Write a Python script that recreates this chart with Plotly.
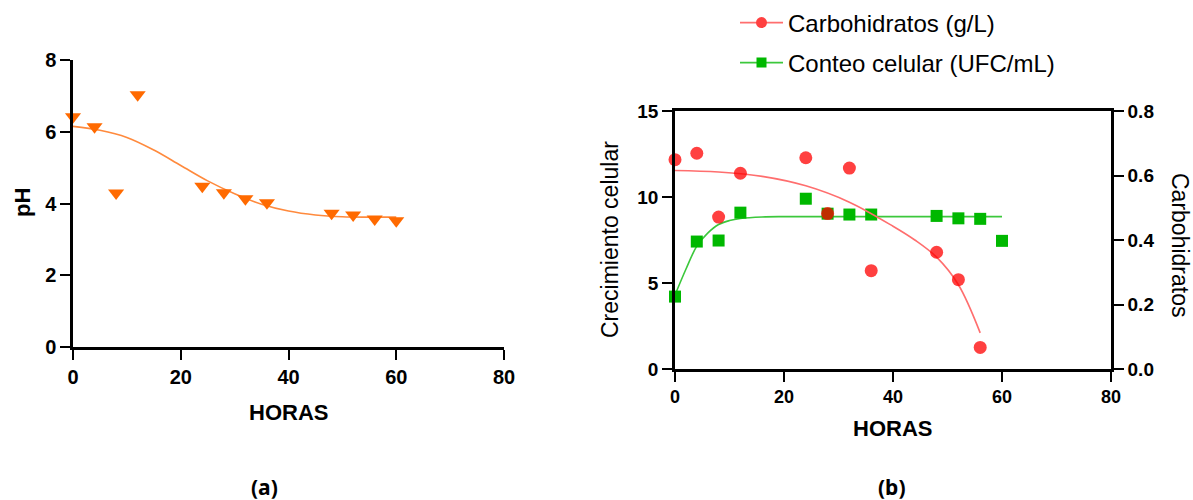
import plotly.graph_objects as go

W, H = 1193, 500

# ---- Data: panel (a) pH ----
hours_ph = [0, 4, 8, 12, 24, 28, 32, 36, 48, 52, 56, 60]
ph_vals = [6.42, 6.14, 4.29, 7.03, 4.48, 4.30, 4.13, 4.02, 3.73, 3.68, 3.57, 3.52]
ph_fit_x = [0, 5, 10, 15, 20, 25, 30, 35, 40, 45, 50, 55, 60]
ph_fit_y = [6.15, 6.04, 5.84, 5.49, 5.06, 4.63, 4.27, 3.98, 3.79, 3.68, 3.63, 3.62, 3.62]

# ---- Data: panel (b) ----
hours_b = [0, 4, 8, 12, 24, 28, 32, 36, 48, 52, 56, 60]
conteo_vals = [4.21, 7.41, 7.47, 9.09, 9.90, 9.03, 8.98, 8.98, 8.90, 8.76, 8.73, 7.45]
conteo_fit_x = [0, 2, 4, 6, 8, 10, 12, 16, 20, 30, 40, 50, 60]
conteo_fit_y = [4.3, 5.8, 7.14, 7.9, 8.4, 8.63, 8.75, 8.84, 8.86, 8.86, 8.86, 8.86, 8.86]

hours_carb = [0, 4, 8, 12, 24, 28, 32, 36, 48, 52, 56]
carb_vals = [0.649, 0.669, 0.471, 0.607, 0.655, 0.482, 0.623, 0.305, 0.362, 0.277, 0.067]
carb_fit_x = [0, 8, 16, 24, 32, 40, 44, 48, 52, 56]
carb_fit_y = [0.6155, 0.6107, 0.5973, 0.568, 0.5173, 0.4427, 0.400, 0.3467, 0.2613, 0.112]

x_ticks = [0, 20, 40, 60, 80]
ph_ticks = [0, 2, 4, 6, 8]
crec_ticks = [0, 5, 10, 15]
carb_ticks = [0.0, 0.2, 0.4, 0.6, 0.8]

ORANGE = "#ff6a00"
ORANGE_L = "#ff8a3d"
RED = "rgb(255,0,0)"
RED_L = "#ff6e6e"
GREEN = "#00b800"
GREEN_L = "#3cc83c"

FONT = "Liberation Sans"

fig = go.Figure()

# panel (a)
fig.add_trace(go.Scatter(x=ph_fit_x, y=ph_fit_y, mode="lines", line=dict(color=ORANGE_L, width=1.6, shape="spline"),
                         xaxis="x", yaxis="y", showlegend=False, hoverinfo="skip"))
fig.add_trace(go.Scatter(x=hours_ph, y=ph_vals, mode="markers",
                         marker=dict(symbol="triangle-down", size=14, color=ORANGE),
                         xaxis="x", yaxis="y", showlegend=False, cliponaxis=False))

# panel (b)
fig.add_trace(go.Scatter(x=conteo_fit_x, y=conteo_fit_y, mode="lines", line=dict(color=GREEN_L, width=1.6, shape="spline"),
                         xaxis="x2", yaxis="y2", showlegend=False, hoverinfo="skip"))
fig.add_trace(go.Scatter(x=carb_fit_x, y=carb_fit_y, mode="lines", line=dict(color=RED_L, width=1.6, shape="spline"),
                         xaxis="x2", yaxis="y3", showlegend=False, hoverinfo="skip"))
fig.add_trace(go.Scatter(x=hours_b, y=conteo_vals, mode="markers",
                         marker=dict(symbol="square", size=12, color=GREEN),
                         xaxis="x2", yaxis="y2", showlegend=False, cliponaxis=False))
fig.add_trace(go.Scatter(x=hours_carb, y=carb_vals, mode="markers",
                         marker=dict(symbol="circle", size=13, color=RED, opacity=0.75),
                         xaxis="x2", yaxis="y3", showlegend=False, cliponaxis=False))

# legend entries
fig.add_trace(go.Scatter(x=[None], y=[None], mode="lines+markers", name="Carbohidratos (g/L)",
                         line=dict(color=RED_L, width=1.6), marker=dict(symbol="circle", size=11, color="#ff4040"),
                         xaxis="x2", yaxis="y3", legend="legend"))
fig.add_trace(go.Scatter(x=[None], y=[None], mode="lines+markers", name="Conteo celular (UFC/mL)",
                         line=dict(color=GREEN_L, width=1.6), marker=dict(symbol="square", size=10, color=GREEN),
                         xaxis="x2", yaxis="y2", legend="legend2"))


def px_x(p):
    return p / W


def px_y(p):
    return 1 - p / H


def axis_style(size):
    return dict(showgrid=False, zeroline=False, showline=True, linecolor="black", linewidth=2.5,
                ticks="outside", ticklen=10, tickwidth=2.2, tickcolor="black",
                tickfont=dict(family=FONT, size=size, color="black", weight="bold"),
                automargin=False)


fig.update_layout(
    width=W, height=H,
    margin=dict(l=0, r=0, t=0, b=0),
    paper_bgcolor="white", plot_bgcolor="white",
    xaxis=dict(domain=[px_x(73), px_x(504)], range=[0, 80], tickvals=x_ticks, anchor="y", **axis_style(20)),
    yaxis=dict(domain=[px_y(347), px_y(60)], range=[0, 8], tickvals=ph_ticks, anchor="x", **axis_style(20)),
    xaxis2=dict(domain=[px_x(675), px_x(1111)], range=[0, 80], tickvals=x_ticks, anchor="y2", mirror=True,
                **axis_style(18)),
    yaxis2=dict(domain=[px_y(369), px_y(111)], range=[0, 15], tickvals=crec_ticks, anchor="x2", **axis_style(19)),
    yaxis3=dict(range=[0, 0.8], tickvals=carb_ticks, tickformat=".1f", overlaying="y2", side="right",
                anchor="x2", **axis_style(19)),
    legend=dict(x=px_x(735), y=px_y(23), xanchor="left", yanchor="middle",
                font=dict(family=FONT, size=24, color="black"), bgcolor="rgba(0,0,0,0)", itemwidth=43),
    legend2=dict(x=px_x(735), y=px_y(63), xanchor="left", yanchor="middle",
                 font=dict(family=FONT, size=24, color="black"), bgcolor="rgba(0,0,0,0)", itemwidth=43),
    showlegend=True,
)

ann_bold = dict(family=FONT, size=22, color="black", weight="bold")
ann_reg = dict(family=FONT, size=23, color="black")
label_font = dict(family="Noto Sans", size=21, color="black", weight="bold")
annotations = [
    dict(text="pH", x=px_x(22), y=px_y(202), textangle=-90, font=ann_bold),
    dict(text="HORAS", x=px_x(288), y=px_y(412), font=ann_bold),
    dict(text="Crecimiento celular", x=px_x(610), y=px_y(240), textangle=-90, font=ann_reg),
    dict(text="Carbohidratos", x=px_x(1180), y=px_y(245), textangle=90, font=dict(family=FONT, size=23, color="black")),
    dict(text="HORAS", x=px_x(892), y=px_y(428), font=ann_bold),
    dict(text="(a)", x=px_x(264), y=px_y(487), font=label_font),
    dict(text="(b)", x=px_x(892), y=px_y(487), font=label_font),
]
for a in annotations:
    a.update(xref="paper", yref="paper", showarrow=False, xanchor="center", yanchor="middle")
fig.update_layout(annotations=annotations)

fig.write_html("out.html", config={"displayModeBar": False},
               post_script="document.body.style.margin='0px';")
